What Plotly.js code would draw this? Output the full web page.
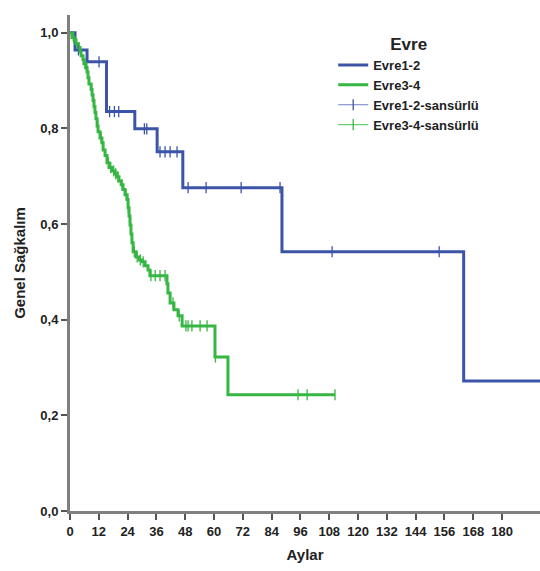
<!DOCTYPE html>
<html>
<head>
<meta charset="utf-8">
<script src="https://cdn.plot.ly/plotly-3.0.1.min.js"></script>
<style>html,body{margin:0;padding:0;background:#fff;}#chart{width:540px;height:571px;}</style>
</head>
<body>
<div id="chart"></div>
<script>
// Evre1-2: event times (months) and survival after each event
const blueTimes = [2.1, 7.1, 15.2, 27, 36.3, 47, 88.3, 164];
const blueSurv  = [0.964, 0.939, 0.835, 0.799, 0.751, 0.676, 0.542, 0.272];
const blueEnd = 200;
const blueCensored = [3.5, 12.1, 16.5, 18.5, 20.3, 31, 32, 37.5, 39.6, 41.7, 44.6, 49.2, 56.7, 71.3, 87.5, 109.2, 153.8];

// Evre3-4
const greenTimes = [0.8,1.7,2.5,3.3,4.2,4.6,5.4,5.8,6.7,7.1,7.5,7.9,8.8,9.2,9.6,10,10.4,10.8,11.3,11.7,12.5,13.3,13.8,14.6,15.4,16.3,17.5,18.8,19.6,20.4,21.3,22.1,22.9,23.8,24.2,24.6,25,25.4,25.8,26.3,27.5,28.8,30,31.3,32.5,33.3,40.4,40.8,41.7,43.3,45,46.7,60.4,65.8];
const greenSurv  = [0.99,0.985,0.977,0.969,0.96,0.952,0.944,0.935,0.927,0.918,0.906,0.893,0.881,0.87,0.858,0.845,0.833,0.82,0.805,0.793,0.78,0.77,0.755,0.743,0.728,0.718,0.711,0.705,0.699,0.69,0.682,0.672,0.661,0.651,0.634,0.617,0.598,0.579,0.561,0.542,0.531,0.525,0.521,0.513,0.504,0.492,0.475,0.456,0.435,0.421,0.408,0.387,0.322,0.243];
const greenEnd = 110.4;
const greenCensored = [1.5, 3.8, 6.2, 9, 11.5, 13, 16, 17, 18.2, 19, 20, 21.7, 23.4, 24.3, 26.8, 28, 29.3, 30.5, 33.7, 35.5, 37.5, 39.6, 42.9, 45.5, 48.3, 49.2, 50.8, 54.2, 57.1, 60.6, 95, 98.8, 110.4];

const xTicks = [0,12,24,36,48,60,72,84,96,108,120,132,144,156,168,180];
const yTicks = [0, 0.2, 0.4, 0.6, 0.8, 1.0];
const yTickText = ['0,0','0,2','0,4','0,6','0,8','1,0'];

const names = ['Evre1-2','Evre3-4','Evre1-2-sansürlü','Evre3-4-sansürlü'];
const BLUE = '#3b54a8', GREEN = '#36b643';
const FONT = '"Liberation Sans", Arial, sans-serif';

function stepXY(times, surv, end) {
  const x = [0].concat(times, [end]);
  const y = [1].concat(surv, [surv[surv.length - 1]]);
  return {x, y};
}
function survAt(times, surv, t) {
  let s = 1;
  for (let i = 0; i < times.length; i++) { if (times[i] <= t) s = surv[i]; }
  return s;
}
function censXY(cens, times, surv) {
  const x = [], y = [];
  cens.forEach(t => { x.push(t, null); y.push(survAt(times, surv, t), null); });
  return {x, y};
}

const b = stepXY(blueTimes, blueSurv, blueEnd);
const g = stepXY(greenTimes, greenSurv, greenEnd);
const bc = censXY(blueCensored, blueTimes, blueSurv);
const gc = censXY(greenCensored, greenTimes, greenSurv);

const traces = [
  {x: b.x, y: b.y, name: names[0], mode: 'lines', line: {shape: 'hv', color: BLUE, width: 3}},
  {x: g.x, y: g.y, name: names[1], mode: 'lines', line: {shape: 'hv', color: GREEN, width: 3}},
  {x: bc.x, y: bc.y, name: names[2], mode: 'lines+markers', line: {color: '#6f7fc4', width: 1.2},
   marker: {symbol: 'line-ns', size: 8, color: BLUE, line: {color: BLUE, width: 1.3}}},
  {x: gc.x, y: gc.y, name: names[3], mode: 'lines+markers', line: {color: '#6ccc72', width: 1.2},
   marker: {symbol: 'line-ns', size: 8, color: GREEN, line: {color: GREEN, width: 1.3}}}
];

const layout = {
  width: 540, height: 571,
  margin: {l: 70, r: 0, t: 15, b: 60},
  paper_bgcolor: '#fff', plot_bgcolor: '#fff',
  showlegend: true,
  font: {family: FONT, color: '#222'},
  xaxis: {
    range: [0, 195.8], tickvals: xTicks, ticktext: xTicks.map(String),
    showgrid: false, zeroline: false, showline: true, linecolor: '#808080', linewidth: 3,
    ticks: 'outside', ticklen: 6, tickwidth: 2, tickcolor: '#555',
    tickfont: {family: FONT, size: 13, weight: 'bold', color: '#222'},
    title: {text: 'Aylar', font: {family: FONT, size: 15, weight: 'bold', color: '#222'}, standoff: 12},
    fixedrange: true
  },
  yaxis: {
    range: [0, 1.037], tickvals: yTicks, ticktext: yTickText,
    showgrid: false, zeroline: false, showline: true, linecolor: '#808080', linewidth: 3,
    ticks: 'outside', ticklen: 6, tickwidth: 2, tickcolor: '#555',
    tickfont: {family: FONT, size: 13, weight: 'bold', color: '#222'},
    title: {text: 'Genel Sağkalım', font: {family: FONT, size: 15, weight: 'bold', color: '#222'}, standoff: 12},
    fixedrange: true
  },
  legend: {
    x: 0.56, y: 0.974, xanchor: 'left', yanchor: 'top',
    bgcolor: 'rgba(0,0,0,0)',
    font: {family: FONT, size: 13, weight: 'bold', color: '#222'},
    title: {text: 'Evre', side: 'top center', font: {family: FONT, size: 17, weight: 'bold', color: '#222'}},
    tracegroupgap: 0, itemwidth: 30
  }
};

Plotly.newPlot('chart', traces, layout, {staticPlot: true, displayModeBar: false});
</script>
</body>
</html>
